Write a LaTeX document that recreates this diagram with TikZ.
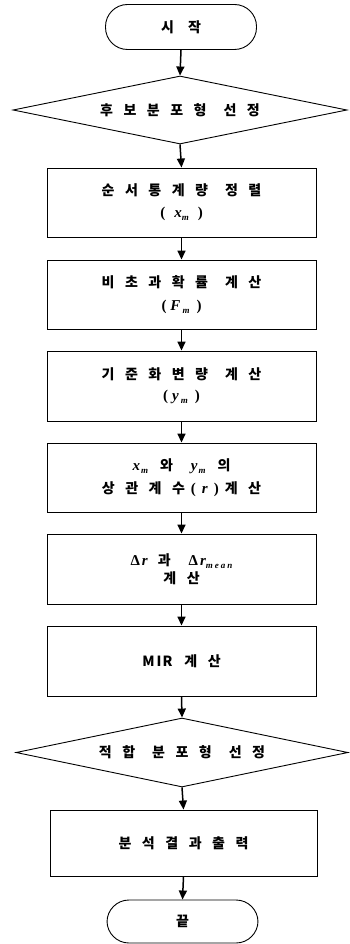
\documentclass[tikz,border=0pt]{standalone}
\usepackage{fontspec}
\setmainfont{Noto Sans CJK KR}
\newfontfamily\tms{Liberation Serif}
\usetikzlibrary{shapes.geometric,arrows.meta}
\newcommand\sk{\hspace{10.5pt}}
\newcommand\SK{\hspace{17pt}}
\newcommand\vr[1]{{\tms\bfseries\itshape\fontsize{15}{15}\selectfont #1}}
\newcommand\sbs[1]{\raisebox{-3pt}{\tms\bfseries\itshape\fontsize{9}{9}\selectfont #1}}
\newcommand\pr[1]{{\tms\fontsize{15}{15}\selectfont #1}}
\begin{document}
\begin{tikzpicture}[x=1pt,y=-1pt,
  base/.style={draw=black,line width=0.9pt,inner sep=0pt,align=center,
    font=\fontsize{14}{23}\selectfont\bfseries},
  term/.style={base,rectangle,rounded corners=22pt,minimum width=151pt,minimum height=45pt},
  decide/.style={base,diamond,shape aspect=5,minimum width=334pt,minimum height=68pt},
  proc/.style={base,rectangle,minimum width=269pt},
  arr/.style={line width=1.5pt,-{Triangle[length=9pt,width=8pt]}}]
\useasboundingbox (0,0) rectangle (349,944);
\node[term] (start) at (181,27) {시\hspace{14pt}작};
\node[decide] (d1) at (180,110) {후\sk 보\sk 분\sk 포\sk 형\SK 선\sk 정};
\node[proc,minimum height=69pt] (b1) at (181.5,202.5) {순\sk 서\sk 통\sk 계\sk 량\SK 정\sk 렬\\[-1pt]\pr{(}\hspace{9pt}\vr{x}\sbs{m}\hspace{9pt}\pr{)}};
\node[proc,minimum height=69pt] (b2) at (181.5,294.5) {비\sk 초\sk 과\sk 확\sk 률\SK 계\sk 산\\[0pt]\pr{(}\hspace{4pt}\vr{F}\hspace{2pt}\sbs{m}\hspace{7pt}\pr{)}};
\node[proc,minimum height=70pt] (b3) at (181.5,386) {기\sk 준\sk 화\sk 변\sk 량\SK 계\sk 산\\[-2pt]\pr{(}\hspace{4pt}\vr{y}\hspace{2pt}\sbs{m}\hspace{7pt}\pr{)}};
\node[proc,minimum height=69pt] (b4) at (181.5,477.5) {\vr{x}\hspace{1pt}\sbs{m}\hspace{12pt}와\hspace{18pt}\vr{y}\hspace{1pt}\sbs{m}\hspace{12pt}의\\[0pt]상\sk 관\sk 계\sk 수\hspace{6pt}\pr{(}\hspace{6pt}\vr{r}\hspace{6pt}\pr{)}\hspace{6pt}계\sk 산};
\node[proc,minimum height=70pt] (b5) at (181.5,569) {\pr{Δ}\hspace{2pt}\vr{r}\hspace{10pt}과\hspace{18pt}\pr{Δ}\hspace{2pt}\vr{r}\sbs{m\hspace{2pt}e\hspace{2pt}a\hspace{2pt}n}\\[-5pt]계\sk 산};
\node[proc,minimum height=70pt] (b6) at (181.5,661) {M\hspace{2pt}I\hspace{1pt}R\hspace{12pt}계\sk 산};
\node[decide,minimum width=332pt,minimum height=69pt] (d2) at (182,752.5) {적\sk 합\SK 분\sk 포\sk 형\SK 선\sk 정};
\node[proc,minimum width=267pt,minimum height=66pt] (b7) at (183.5,843) {분\sk 석\sk 결\sk 과\sk 출\sk 력};
\node[term,minimum height=43pt] (end) at (182.5,921.5) {끝};
\draw[arr] (start.south) -- (d1.north);
\draw[arr] (d1.south) -- (b1.north);
\draw[arr] (b1.south) -- (b2.north);
\draw[arr] (b2.south) -- (b3.north);
\draw[arr] (b3.south) -- (b4.north);
\draw[arr] (b4.south) -- (b5.north);
\draw[arr] (b5.south) -- (b6.north);
\draw[arr] (b6.south) -- (d2.north);
\draw[arr] (d2.south) -- (b7.north);
\draw[arr] (b7.south) -- (end.north);
\end{tikzpicture}
\end{document}
